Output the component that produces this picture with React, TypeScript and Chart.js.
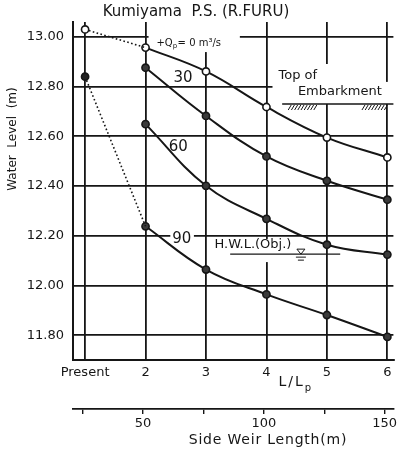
import { useEffect, useRef } from 'react';
import { Chart, registerables } from 'chart.js';

Chart.register(...registerables);

const FONT = '"DejaVu Sans", "Liberation Sans", sans-serif';
const INK = '#161616';

// L/Lp positions and their tick labels
const ratioTicks = [1, 2, 3, 4, 5, 6];
const ratioLabels = ['Present', '2', '3', '4', '5', '6'];
// water level ticks (m)
const levelTicks = [11.8, 12.0, 12.2, 12.4, 12.6, 12.8, 13.0];
// side weir length ticks (m)
const weirTicks = [25, 50, 75, 100, 125, 150];
const weirLabelled = [50, 100, 150];

// present-state water levels
const presentNoInflow = 13.03;
const presentFlood = 12.84;

// water level vs L/Lp for each inflow Qp (m3/s)
const ratios = [2, 3, 4, 5, 6];
const levelQ0 = [12.957, 12.861, 12.718, 12.595, 12.515];
const levelQ30 = [12.876, 12.682, 12.519, 12.421, 12.345];
const levelQ60 = [12.649, 12.401, 12.268, 12.164, 12.124];
const levelQ90 = [12.238, 12.064, 11.964, 11.881, 11.793];

const toPoints = (ys: number[]) => ratios.map((x, i) => ({ x, y: ys[i] }));

const curve = (data: { x: number; y: number }[], open: boolean) => ({
  data,
  borderColor: INK,
  borderWidth: 2,
  tension: 0.4,
  pointRadius: 3.6,
  pointBorderWidth: 1.6,
  pointBorderColor: INK,
  pointBackgroundColor: open ? '#ffffff' : '#3a3a3a',
});

const dotted = (from: number, to: number, open: boolean) => ({
  data: [
    { x: 1, y: from },
    { x: 2, y: to },
  ],
  borderColor: INK,
  borderWidth: 1.6,
  borderDash: [1.6, 2.4],
  tension: 0,
  pointRadius: [3.6, 0],
  pointBorderWidth: 1.6,
  pointBorderColor: INK,
  pointBackgroundColor: open ? '#ffffff' : '#222222',
});

const annotations = {
  id: 'annotations',
  beforeDatasetsDraw(chart: any) {
    // clear the grid behind the text blocks
    const { ctx } = chart;
    const X = (v: number) => chart.scales.x.getPixelForValue(v);
    const Y = (v: number) => chart.scales.y.getPixelForValue(v);
    const clear = (x0: number, y0: number, x1: number, y1: number) =>
      ctx.fillRect(X(x0), Y(y0), X(x1) - X(x0), Y(y1) - Y(y0));
    ctx.save();
    ctx.fillStyle = '#ffffff';
    clear(2.05, 13.06, 3.56, 12.939);
    clear(4.1, 12.891, 5.24, 12.73);
    clear(4.43, 12.819, 6.12, 12.73);
    clear(2.41, 12.223, 2.8, 12.155);
    clear(3.09, 12.187, 4.85, 12.094);
    ctx.restore();
  },
  afterDatasetsDraw(chart: any) {
    const { ctx } = chart;
    const X = (v: number) => chart.scales.x.getPixelForValue(v);
    const Y = (v: number) => chart.scales.y.getPixelForValue(v);
    ctx.save();
    ctx.fillStyle = INK;
    ctx.strokeStyle = INK;
    ctx.textBaseline = 'middle';

    // inflow label  +Qp = 0 m3/s
    let x = X(2.18);
    const yq = Y(12.975);
    ctx.textAlign = 'left';
    ctx.font = `10px ${FONT}`;
    ctx.fillText('+Q', x, yq);
    x += ctx.measureText('+Q').width;
    ctx.font = `7px ${FONT}`;
    ctx.fillText('p', x, yq + 3);
    x += ctx.measureText('p').width + 0.5;
    ctx.font = `10px ${FONT}`;
    ctx.fillText('= 0 m³/s', x, yq);

    ctx.font = `15px ${FONT}`;
    ctx.textAlign = 'center';
    ctx.fillText('30', X(2.62), Y(12.835));
    ctx.fillText('60', X(2.54), Y(12.557));
    ctx.fillText('90', X(2.6), Y(12.187));

    // top of embankment
    ctx.font = `13px ${FONT}`;
    ctx.textAlign = 'left';
    ctx.fillText('Top of', X(4.2), Y(12.843));
    ctx.fillText('Embarkment', X(4.52), Y(12.778));
    const yb = Y(12.73);
    ctx.lineWidth = 1.6;
    ctx.beginPath();
    ctx.moveTo(X(4.26), yb);
    ctx.lineTo(X(6.1), yb);
    ctx.stroke();
    ctx.lineWidth = 1;
    for (const [a, b] of [
      [4.36, 4.82],
      [5.58, 6.0],
    ]) {
      for (let hx = X(a); hx < X(b); hx += 3.2) {
        ctx.beginPath();
        ctx.moveTo(hx + 3, yb + 1);
        ctx.lineTo(hx, yb + 6);
        ctx.stroke();
      }
    }

    // high water level
    ctx.font = `13px ${FONT}`;
    ctx.fillText('H.W.L.(Obj.)', X(3.14), Y(12.163));
    const yh = Y(12.126);
    ctx.lineWidth = 1.4;
    ctx.beginPath();
    ctx.moveTo(X(3.4), yh);
    ctx.lineTo(X(5.22), yh);
    ctx.stroke();
    const tx = X(4.57);
    ctx.lineWidth = 1;
    ctx.beginPath();
    ctx.moveTo(tx - 4, yh - 5);
    ctx.lineTo(tx + 4, yh - 5);
    ctx.lineTo(tx, yh);
    ctx.closePath();
    ctx.stroke();
    ctx.beginPath();
    ctx.moveTo(tx - 5, yh + 3);
    ctx.lineTo(tx + 5, yh + 3);
    ctx.moveTo(tx - 3, yh + 6);
    ctx.lineTo(tx + 3, yh + 6);
    ctx.stroke();

    ctx.restore();
  },
  afterDraw(chart: any) {
    const { ctx } = chart;
    ctx.save();
    ctx.fillStyle = INK;
    ctx.textBaseline = 'middle';

    ctx.font = `15px ${FONT}`;
    ctx.textAlign = 'center';
    ctx.fillText('Kumiyama  P.S. (R.FURU)', 196, 12);

    // L / Lp
    const xs = chart.scales.x;
    ctx.font = `14px ${FONT}`;
    ctx.textAlign = 'left';
    (ctx as any).letterSpacing = '2px';
    const lx = xs.getPixelForValue(4.2);
    ctx.fillText('L/L', lx, 382);
    const w = ctx.measureText('L/L').width;
    (ctx as any).letterSpacing = '0px';
    ctx.font = `10px ${FONT}`;
    ctx.fillText('p', lx + w, 388);

    // side weir length title
    ctx.font = `14px ${FONT}`;
    ctx.textAlign = 'center';
    (ctx as any).letterSpacing = '0.8px';
    ctx.fillText('Side Weir Length(m)', 268, 440);
    (ctx as any).letterSpacing = '0px';

    // water level title
    ctx.translate(13, 139);
    ctx.rotate(-Math.PI / 2);
    ctx.font = `12px ${FONT}`;
    ctx.fillText('Water  Level  (m)', 0, 0);
    ctx.restore();
  },
};

export default function App() {
  const canvasRef = useRef<HTMLCanvasElement>(null);

  useEffect(() => {
    const canvas = canvasRef.current;
    if (!canvas) return;
    const chart = new Chart(canvas, {
      type: 'line',
      data: {
        datasets: [
          dotted(presentNoInflow, levelQ0[0], true),
          dotted(presentFlood, levelQ90[0], false),
          curve(toPoints(levelQ0), true),
          curve(toPoints(levelQ30), false),
          curve(toPoints(levelQ60), false),
          curve(toPoints(levelQ90), false),
        ] as any,
      },
      options: {
        responsive: false,
        animation: false,
        devicePixelRatio: 1,
        layout: { padding: { top: 22, left: 0, right: 0, bottom: 0 } },
        plugins: {
          legend: { display: false },
          tooltip: { enabled: false },
        },
        scales: {
          x: {
            type: 'linear',
            position: 'bottom',
            min: 0.8,
            max: 6.1,
            afterBuildTicks: (s: any) => {
              s.ticks = ratioTicks.map((value) => ({ value }));
            },
            afterFit: (s: any) => {
              s.height = 49;
              s.paddingLeft = 0;
              s.paddingRight = 0;
            },
            ticks: {
              autoSkip: false,
              maxRotation: 0,
              padding: 5,
              color: INK,
              font: { family: FONT, size: 13 },
              callback: (_v: any, i: number) => ratioLabels[i],
            },
            grid: { color: INK, lineWidth: 1.8, drawTicks: false },
            border: { color: INK, width: 2 },
          },
          x2: {
            type: 'linear',
            position: 'bottom',
            min: 21,
            max: 153.6,
            afterBuildTicks: (s: any) => {
              s.ticks = weirTicks.map((value) => ({ value }));
            },
            afterFit: (s: any) => {
              s.height = 41;
              s.paddingLeft = 0;
              s.paddingRight = 0;
            },
            ticks: {
              autoSkip: false,
              maxRotation: 0,
              padding: 2,
              color: INK,
              font: { family: FONT, size: 13 },
              callback: (v: any) => (weirLabelled.includes(v) ? String(v) : ''),
            },
            grid: {
              drawOnChartArea: false,
              drawTicks: true,
              tickLength: 5,
              color: INK,
              lineWidth: 1.4,
            },
            border: { color: INK, width: 1.8 },
          },
          y: {
            type: 'linear',
            min: 11.7,
            max: 13.06,
            afterBuildTicks: (s: any) => {
              s.ticks = levelTicks.map((value) => ({ value }));
            },
            afterFit: (s: any) => {
              s.width = 73;
              s.paddingTop = 0;
              s.paddingBottom = 0;
            },
            ticks: {
              padding: 9,
              color: INK,
              font: { family: FONT, size: 13 },
              callback: (v: any) => Number(v).toFixed(2),
            },
            grid: { color: INK, lineWidth: 1.8, drawTicks: false },
            border: { color: INK, width: 2 },
          },
        },
      },
      plugins: [annotations],
    });
    return () => chart.destroy();
  }, []);

  return (
    <div
      style={{
        position: 'absolute',
        left: 0,
        top: 0,
        width: 399,
        height: 450,
        background: '#ffffff',
      }}
    >
      <canvas
        ref={canvasRef}
        width={399}
        height={450}
        style={{ display: 'block', width: 399, height: 450 }}
      />
    </div>
  );
}
